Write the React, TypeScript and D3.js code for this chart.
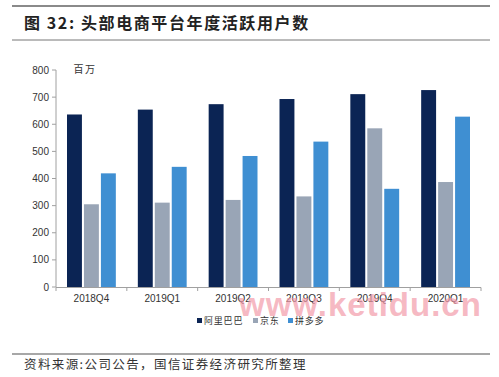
import React from "react";
import * as d3 from "d3";

const categories = ["2018Q4", "2019Q1", "2019Q2", "2019Q3", "2019Q4", "2020Q1"];
const seriesNames = ["阿里巴巴", "京东", "拼多多"];
const alibaba = [636, 654, 674, 693, 711, 726];
const jd = [305, 311, 321, 334, 585, 387];
const pdd = [419, 443, 483, 536, 362, 628];
const yTicks = [0, 100, 200, 300, 400, 500, 600, 700, 800];
const colors = ["#0b2454", "#99a5b6", "#3f8fd2"];

export default function App() {
  const W = 499, H = 377;
  const x0 = d3.scaleBand().domain(categories).range([56, 481]).paddingInner(0).paddingOuter(0);
  const x1 = d3.scaleBand().domain(seriesNames).range([11, x0.bandwidth() - 11]).paddingInner(0.12).paddingOuter(0);
  const y = d3.scaleLinear().domain([0, 800]).range([287, 70]);
  const series = [alibaba, jd, pdd];
  const font = "'Noto Sans CJK SC', 'Liberation Sans', Arial, sans-serif";
  const legendX = [197, 253, 288];
  return (
    <svg width={W} height={H} style={{ position: "absolute", left: 0, top: 0, background: "#fff" }} fontFamily={font}>
      <line x1={12} x2={490} y1={6} y2={6} stroke="#8a8a8a" strokeWidth={2} />
      <text x={24} y={29} fontSize={16} fontWeight="bold" fill="#222" letterSpacing={1.6}>图 32:  头部电商平台年度活跃用户数</text>
      <line x1={12} x2={490} y1={40} y2={40} stroke="#777" strokeWidth={1} />

      {/* y axis */}
      <line x1={56} x2={56} y1={y(800)} y2={y(0)} stroke="#a0a0a0" />
      {yTicks.map((t) => (
        <g key={t}>
          <line x1={52} x2={56} y1={y(t)} y2={y(t)} stroke="#a0a0a0" />
          <text x={49} y={y(t) + 3.5} fontSize={10} textAnchor="end" fill="#333" fontFamily="'Liberation Sans', Arial, sans-serif">{t}</text>
        </g>
      ))}
      <text x={85} y={73} fontSize={10} textAnchor="middle" fill="#333" letterSpacing={1.5}>百万</text>

      {/* bars */}
      {categories.map((c, i) => (
        <g key={c} transform={`translate(${x0(c)},0)`}>
          {seriesNames.map((s, j) => (
            <rect key={s} x={x1(s)} y={y(series[j][i])} width={x1.bandwidth()} height={y(0) - y(series[j][i])} fill={colors[j]} />
          ))}
        </g>
      ))}

      {/* x axis */}
      <line x1={56} x2={481} y1={287.5} y2={287.5} stroke="#a0a0a0" />
      {[...categories.map((c) => x0(c) as number), 481].map((v, i) => (
        <line key={i} x1={v} x2={v} y1={287.5} y2={291} stroke="#a0a0a0" />
      ))}
      {categories.map((c) => (
        <text key={c} x={(x0(c) as number) + x0.bandwidth() / 2} y={302} fontSize={10} textAnchor="middle" fill="#333" fontFamily="'Liberation Sans', Arial, sans-serif">{c}</text>
      ))}

      {/* legend */}
      {seriesNames.map((s, j) => (
        <g key={s}>
          <rect x={legendX[j]} y={318} width={5} height={5} fill={colors[j]} />
          <text x={legendX[j] + 7} y={324} fontSize={9} fill="#333" letterSpacing={0.8}>{s}</text>
        </g>
      ))}

      {/* watermark */}
      <text x={239} y={316} fontSize={33} fontWeight="bold" fill="#f29aa8" fillOpacity={0.7} fontFamily="'Liberation Sans', Arial, sans-serif" letterSpacing={1}>www.ketidu.cn</text>

      <line x1={12} x2={490} y1={354} y2={354} stroke="#8a8a8a" strokeWidth={1.5} />
      <text x={24} y={369} fontSize={12.5} fill="#333" letterSpacing={1.4}>资料来源:公司公告，国信证券经济研究所整理</text>
    </svg>
  );
}
